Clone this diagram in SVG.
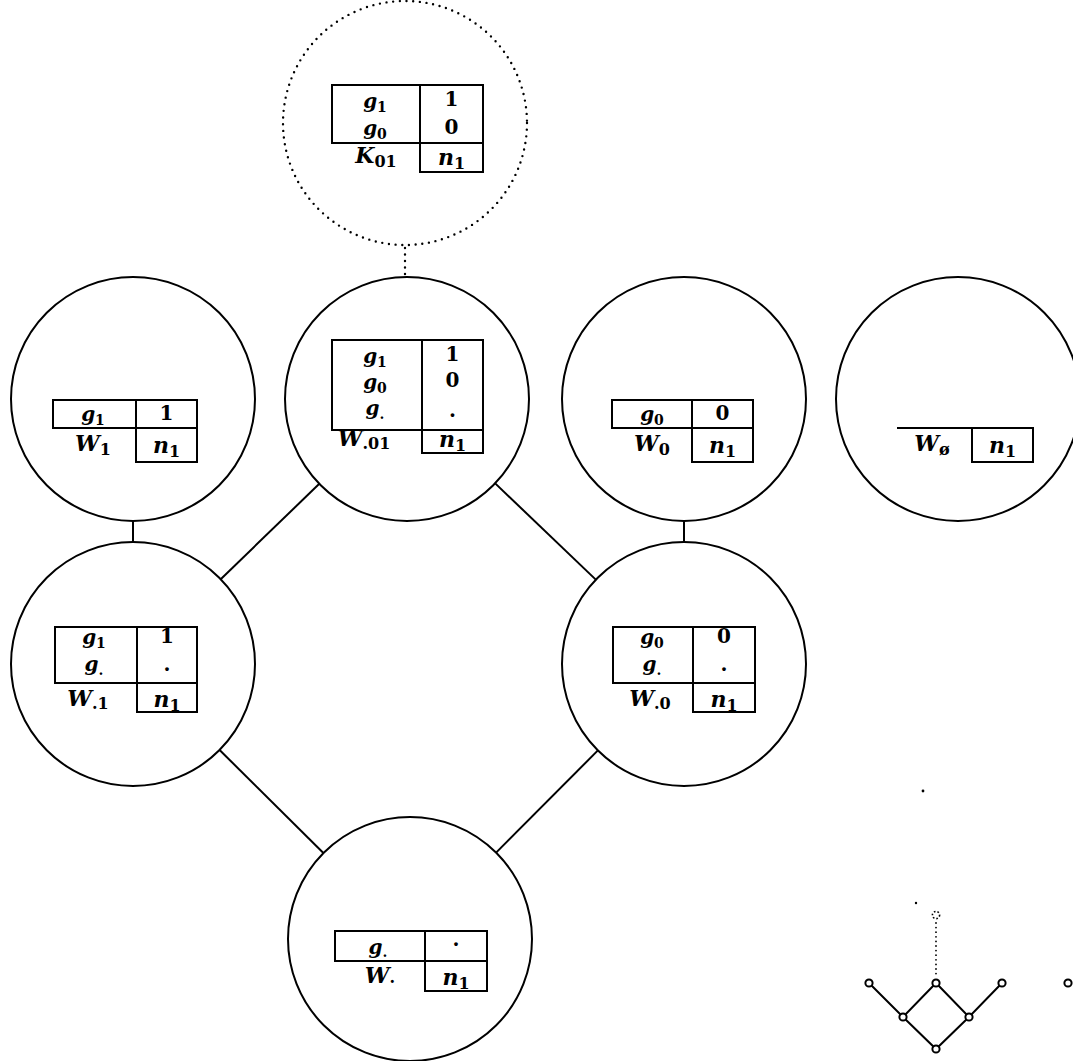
<svg xmlns="http://www.w3.org/2000/svg" width="1073" height="1061" viewBox="0 0 1073 1061">
  <style>
    .ring { fill: none; stroke: #000; stroke-width: 2; }
    .ring-dot { fill: none; stroke: #000; stroke-width: 2.4; stroke-linecap: round; stroke-dasharray: 0 6.7; }
    .tbl { fill: none; stroke: #000; stroke-width: 2; }
    .edge { stroke: #000; stroke-width: 2; fill: none; }
    .edge-dot { stroke: #000; stroke-width: 2.4; stroke-linecap: round; stroke-dasharray: 0 6.5; fill: none; }
    .t { font-family: "DejaVu Serif", "Liberation Serif", serif; font-size: 20px; font-weight: bold; text-anchor: middle; fill: #000; }
    .it { font-style: italic; }
    .big { font-size: 22px; }
    .sub { font-size: 14px; font-style: normal; }
    .big .sub { font-size: 16px; }
    .mini-node { fill: #fff; stroke: #000; stroke-width: 2; }
    .mini-edge { stroke: #000; stroke-width: 2; fill: none; }
  </style>

  <!-- connectors between the circles -->
  <g id="connectors">
    <line class="edge-dot" x1="405" y1="248" x2="405" y2="275"/>
    <line class="edge" x1="133" y1="521" x2="133" y2="542"/>
    <line class="edge" x1="684" y1="521" x2="684" y2="542"/>
    <line class="edge" x1="319.3" y1="483.8" x2="220.7" y2="579.2"/>
    <line class="edge" x1="495.2" y1="483.4" x2="595.8" y2="579.6"/>
    <line class="edge" x1="219.6" y1="750" x2="323.4" y2="853"/>
    <line class="edge" x1="597.9" y1="750.4" x2="496.1" y2="852.6"/>
  </g>

  <!-- K01 (dotted) -->
  <g id="node-K01">
    <circle class="ring-dot" cx="405" cy="123" r="122"/>
    <rect class="tbl" x="332" y="85" width="151" height="58"/>
    <line class="tbl" x1="420" y1="85" x2="420" y2="172"/>
    <rect class="tbl" x="420" y="143" width="63" height="29"/>
    <text class="t it" x="375" y="108">g<tspan class="sub" dy="4">1</tspan></text>
    <text class="t it" x="375" y="135">g<tspan class="sub" dy="4">0</tspan></text>
    <text class="t" x="451.5" y="106">1</text>
    <text class="t" x="451.5" y="134">0</text>
    <text class="t it big" x="376" y="163">K<tspan class="sub" dy="4">01</tspan></text>
    <text class="t it big" x="451.5" y="165">n<tspan class="sub" dy="4">1</tspan></text>
  </g>

  <!-- W.01 -->
  <g id="node-W01">
    <circle class="ring" cx="407" cy="399" r="122"/>
    <rect class="tbl" x="332" y="340" width="151" height="90"/>
    <line class="tbl" x1="422" y1="340" x2="422" y2="453"/>
    <rect class="tbl" x="422" y="430" width="61" height="23"/>
    <text class="t it" x="375" y="363">g<tspan class="sub" dy="4">1</tspan></text>
    <text class="t it" x="375" y="389">g<tspan class="sub" dy="4">0</tspan></text>
    <text class="t it" x="375" y="415">g<tspan class="sub" dy="4">.</tspan></text>
    <text class="t" x="452.5" y="361">1</text>
    <text class="t" x="452.5" y="387">0</text>
    <text class="t" x="452.5" y="417">.</text>
    <text class="t it big" x="364" y="446">W<tspan class="sub" dy="3">.01</tspan></text>
    <text class="t it big" x="452.5" y="447">n<tspan class="sub" dy="4">1</tspan></text>
  </g>

  <!-- W1 -->
  <g id="node-W1">
    <circle class="ring" cx="133" cy="399" r="122"/>
    <rect class="tbl" x="53" y="400" width="144" height="28"/>
    <line class="tbl" x1="136" y1="400" x2="136" y2="462"/>
    <rect class="tbl" x="136" y="428" width="61" height="34"/>
    <text class="t it" x="93" y="421">g<tspan class="sub" dy="4">1</tspan></text>
    <text class="t" x="166.5" y="420">1</text>
    <text class="t it big" x="93" y="451">W<tspan class="sub" dy="4">1</tspan></text>
    <text class="t it big" x="166.5" y="453">n<tspan class="sub" dy="4">1</tspan></text>
  </g>

  <!-- W0 -->
  <g id="node-W0">
    <circle class="ring" cx="684" cy="399" r="122"/>
    <rect class="tbl" x="612" y="400" width="141" height="28"/>
    <line class="tbl" x1="692" y1="400" x2="692" y2="462"/>
    <rect class="tbl" x="692" y="428" width="61" height="34"/>
    <text class="t it" x="652" y="421">g<tspan class="sub" dy="4">0</tspan></text>
    <text class="t" x="722.5" y="420">0</text>
    <text class="t it big" x="652" y="451">W<tspan class="sub" dy="4">0</tspan></text>
    <text class="t it big" x="722.5" y="453">n<tspan class="sub" dy="4">1</tspan></text>
  </g>

  <!-- W-empty -->
  <g id="node-Wempty">
    <circle class="ring" cx="958" cy="399" r="122"/>
    <line class="tbl" x1="897" y1="428" x2="1033" y2="428"/>
    <rect class="tbl" x="972" y="428" width="61" height="34"/>
    <text class="t it big" x="932" y="451">W<tspan class="sub" dy="4">ø</tspan></text>
    <text class="t it big" x="1002.5" y="453">n<tspan class="sub" dy="4">1</tspan></text>
  </g>

  <!-- W.1 -->
  <g id="node-W_1">
    <circle class="ring" cx="133" cy="664" r="122"/>
    <rect class="tbl" x="55" y="627" width="142" height="56"/>
    <line class="tbl" x1="137" y1="627" x2="137" y2="712"/>
    <rect class="tbl" x="137" y="683" width="60" height="29"/>
    <text class="t it" x="94" y="644">g<tspan class="sub" dy="4">1</tspan></text>
    <text class="t it" x="94" y="671">g<tspan class="sub" dy="4">.</tspan></text>
    <text class="t" x="167" y="643">1</text>
    <text class="t" x="167" y="671">.</text>
    <text class="t it big" x="88" y="706">W<tspan class="sub" dy="3">.1</tspan></text>
    <text class="t it big" x="167" y="707">n<tspan class="sub" dy="4">1</tspan></text>
  </g>

  <!-- W.0 -->
  <g id="node-W_0">
    <circle class="ring" cx="684" cy="664" r="122"/>
    <rect class="tbl" x="613" y="627" width="142" height="56"/>
    <line class="tbl" x1="693" y1="627" x2="693" y2="712"/>
    <rect class="tbl" x="693" y="683" width="62" height="29"/>
    <text class="t it" x="652" y="644">g<tspan class="sub" dy="4">0</tspan></text>
    <text class="t it" x="652" y="671">g<tspan class="sub" dy="4">.</tspan></text>
    <text class="t" x="724" y="643">0</text>
    <text class="t" x="724" y="671">.</text>
    <text class="t it big" x="650" y="706">W<tspan class="sub" dy="3">.0</tspan></text>
    <text class="t it big" x="724" y="707">n<tspan class="sub" dy="4">1</tspan></text>
  </g>

  <!-- W. -->
  <g id="node-Wdot">
    <circle class="ring" cx="410" cy="939" r="122"/>
    <rect class="tbl" x="335" y="931" width="152" height="30"/>
    <line class="tbl" x1="425" y1="931" x2="425" y2="991"/>
    <rect class="tbl" x="425" y="961" width="62" height="30"/>
    <text class="t it" x="378" y="954">g<tspan class="sub" dy="3">.</tspan></text>
    <text class="t" x="456" y="946">.</text>
    <text class="t it big" x="380" y="983">W<tspan class="sub" dy="0">.</tspan></text>
    <text class="t it big" x="456" y="985">n<tspan class="sub" dy="4">1</tspan></text>
  </g>

  <!-- small lattice sketch -->
  <g id="mini-lattice">
    <circle cx="923" cy="791" r="1.4" fill="#000"/>
    <circle cx="916" cy="903" r="1.2" fill="#000"/>
    <circle cx="936" cy="915" r="3.6" fill="none" stroke="#000" stroke-width="1.6" stroke-dasharray="1.6 2"/>
    <line class="edge-dot" x1="936" y1="923" x2="936" y2="978" style="stroke-width:1.8;stroke-dasharray:0 4.6"/>
    <polyline class="mini-edge" points="869,983 903,1017 936,983 969,1017 1002,983"/>
    <polyline class="mini-edge" points="903,1017 936,1049 969,1017"/>
    <circle class="mini-node" cx="869" cy="983" r="3.6"/>
    <circle class="mini-node" cx="936" cy="983" r="3.6"/>
    <circle class="mini-node" cx="1002" cy="983" r="3.6"/>
    <circle class="mini-node" cx="903" cy="1017" r="3.6"/>
    <circle class="mini-node" cx="969" cy="1017" r="3.6"/>
    <circle class="mini-node" cx="936" cy="1049" r="3.6"/>
    <circle class="mini-node" cx="1068" cy="983" r="3.6"/>
  </g>
</svg>
